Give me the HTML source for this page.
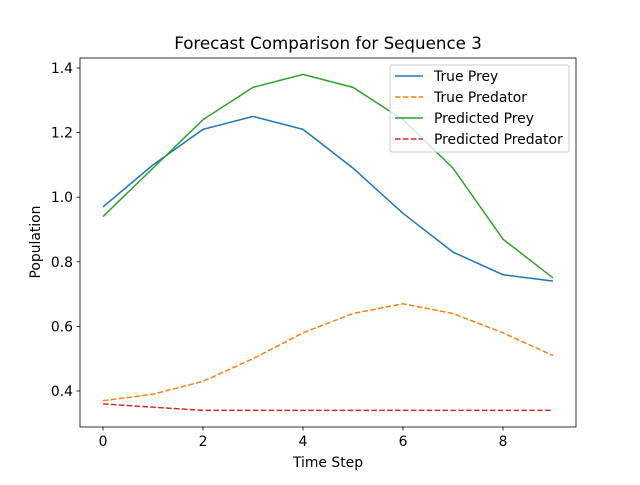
<!DOCTYPE html>
<html><head><meta charset="utf-8"><style>body{margin:0;background:#fff}svg text{font-family:"DejaVu Sans","Liberation Sans",sans-serif}</style></head>
<body>
<svg id="c" width="640" height="480" xmlns="http://www.w3.org/2000/svg"></svg>
<script>
const steps=[0,1,2,3,4,5,6,7,8,9];
const truePrey=[0.97,1.10,1.21,1.25,1.21,1.09,0.95,0.83,0.76,0.74];
const truePred=[0.37,0.39,0.43,0.50,0.58,0.64,0.67,0.64,0.58,0.51];
const predPrey=[0.94,1.09,1.24,1.34,1.38,1.34,1.24,1.09,0.87,0.75];
const predPred=[0.36,0.35,0.34,0.34,0.34,0.34,0.34,0.34,0.34,0.34];
const xTicks=[0,2,4,6,8];
const yTicks=[0.4,0.6,0.8,1.0,1.2,1.4];
const L=80,R=576,T=58,B=427;
const xs=v=>103+(v)*50;
const ys=v=>391-(v-0.4)*323;
const svg=document.getElementById('c');const NS='http://www.w3.org/2000/svg';
function mk(t,a,p){const e=document.createElementNS(NS,t);for(const k in a)e.setAttribute(k,a[k]);(p||svg).appendChild(e);return e;}
let e=mk('rect',{x:L,y:T,width:R-L,height:B-T,fill:'none',stroke:'#000','stroke-width':0.8});


xTicks.forEach(v=>{const g=mk('g',{});


mk('line',{x1:xs(v),x2:xs(v),y1:B,y2:B+3.5,stroke:'#000','stroke-width':0.8},g);
const t=mk('text',{x:xs(v),y:B+19,'text-anchor':'middle','font-size':13.9},g);t.textContent=v;});
yTicks.forEach(v=>{const g=mk('g',{});


mk('line',{x1:L-3.5,x2:L,y1:ys(v),y2:ys(v),stroke:'#000','stroke-width':0.8},g);
const t=mk('text',{x:L-7,y:ys(v)+5,'text-anchor':'end','font-size':13.9},g);t.textContent=v.toFixed(1);});
const series=[[truePrey,'#1f77b4','','true-prey-line'],[truePred,'#ff7f0e','5.5,2.4','true-predator-line'],[predPrey,'#2ca02c','','predicted-prey-line'],[predPred,'#d62728','5.5,2.4','predicted-predator-line']];
series.forEach(s=>{const p=mk('polyline',{points:steps.map((x,i)=>xs(x)+','+ys(s[0][i])).join(' '),fill:'none',stroke:s[1],'stroke-width':1.5,'stroke-dasharray':s[2]});

});
let t=mk('text',{x:328,y:49,'text-anchor':'middle','font-size':16.7});t.textContent='Forecast Comparison for Sequence 3';

t=mk('text',{x:328,y:467,'text-anchor':'middle','font-size':13.9});t.textContent='Time Step';

t=mk('text',{x:40,y:242,'text-anchor':'middle','font-size':13.9,transform:'rotate(-90 40 242)'});t.textContent='Population';

const lg=mk('g',{});


mk('rect',{x:390,y:65,width:179,height:87,rx:2,fill:'#fff','fill-opacity':0.8,stroke:'#ccc'},lg);
const names=['True Prey','True Predator','Predicted Prey','Predicted Predator'];
series.forEach((s,i)=>{const y=76+i*21;const g=mk('g',{},lg);


mk('line',{x1:395,x2:423,y1:y,y2:y,stroke:s[1],'stroke-width':1.5,'stroke-dasharray':s[2]},g);
const tt=mk('text',{x:434,y:y+5,'font-size':13.9},g);tt.textContent=names[i];});
</script>
</body></html>
